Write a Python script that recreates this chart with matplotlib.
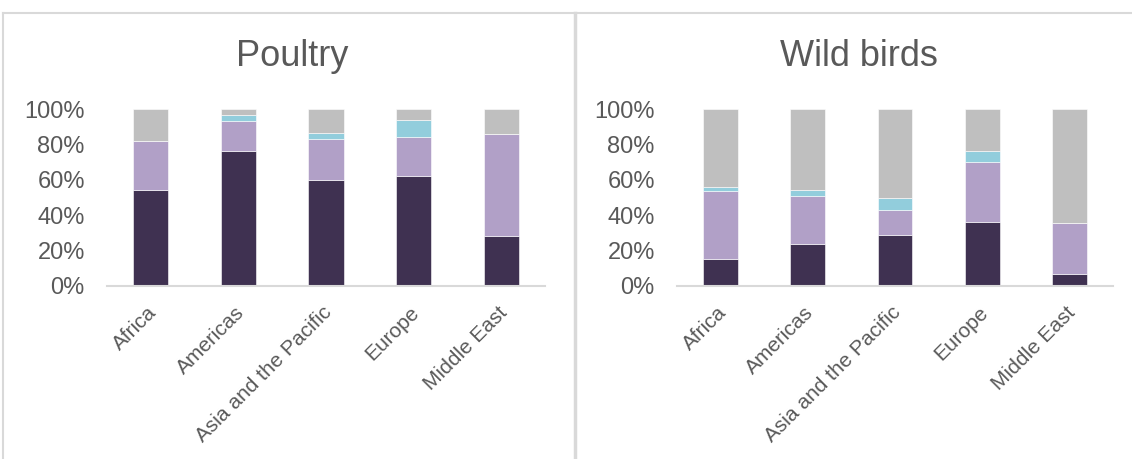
import matplotlib
matplotlib.use("Agg")
import matplotlib.pyplot as plt
import matplotlib.transforms as mtransforms
from matplotlib.lines import Line2D
from matplotlib.ticker import PercentFormatter

regions = ["Africa", "Americas", "Asia and the Pacific", "Europe", "Middle East"]

# shares in percent, stacked bottom to top
poultry_dark = [54, 76, 60, 62, 28]
poultry_purple = [28, 17, 23, 22, 58]
poultry_blue = [0, 3.5, 3.5, 10, 0]
poultry_gray = [18, 3.5, 13.5, 6, 14]

wild_dark = [15, 24, 29, 36, 7]
wild_purple = [38.5, 27, 14, 34, 28.5]
wild_blue = [2.5, 3.5, 6.5, 6, 0]
wild_gray = [44, 45.5, 50.5, 24, 64.5]

colors = ["#3F3151", "#B1A0C7", "#92CDDC", "#BFBFBF"]
text_col = "#595959"
line_col = "#D9D9D9"

plt.rcParams["font.family"] = ["Liberation Sans", "DejaVu Sans"]

W, H = 1132, 459
fig = plt.figure(figsize=(W / 100, H / 100), dpi=100)


def px_axes(x0, x1, ytop, ybot):
    return fig.add_axes([x0 / W, (H - ybot) / H, (x1 - x0) / W, (ybot - ytop) / H])


def draw(ax, title, series, title_x):
    x = range(len(regions))
    bottom = [0] * len(regions)
    for vals, c in zip(series, colors):
        ax.bar(x, vals, bottom=bottom, width=0.4, color=c, edgecolor="white", linewidth=0.4)
        bottom = [b + v for b, v in zip(bottom, vals)]
    ax.set_xlim(-0.5, len(regions) - 0.5)
    ax.set_ylim(0, 100)
    ax.set_yticks([0, 20, 40, 60, 80, 100])
    ax.yaxis.set_major_formatter(PercentFormatter(decimals=0))
    ax.set_xticks(list(x))
    ax.set_xticklabels(regions, rotation=45, ha="right", rotation_mode="anchor")
    ax.tick_params(length=0, colors=text_col)
    ax.tick_params(axis="y", labelsize=17, pad=16)
    ax.tick_params(axis="x", labelsize=15, pad=12)
    shift = mtransforms.ScaledTranslation(-4 / 100, 0, fig.dpi_scale_trans)
    for lab in ax.get_xticklabels():
        lab.set_transform(lab.get_transform() + shift)
    for s in ["top", "right", "left"]:
        ax.spines[s].set_visible(False)
    ax.spines["bottom"].set_color(line_col)
    ax.spines["bottom"].set_linewidth(1.5)
    fig.text(title_x / W, 1 - 56 / H, title, ha="center", va="center",
             fontsize=26, color=text_col)


ax1 = px_axes(107, 545, 109, 286)
draw(ax1, "Poultry", [poultry_dark, poultry_purple, poultry_blue, poultry_gray], 292)

ax2 = px_axes(677, 1113, 109, 286)
draw(ax2, "Wild birds", [wild_dark, wild_purple, wild_blue, wild_gray], 859)

# panel borders
fig.add_artist(Line2D([3 / W, 1], [1 - 13 / H] * 2, color=line_col, lw=1.5))
fig.add_artist(Line2D([3 / W] * 2, [0, 1 - 13 / H], color=line_col, lw=1.5))
fig.add_artist(Line2D([575 / W] * 2, [0, 1 - 13 / H], color=line_col, lw=2.5))

fig.savefig("out.png", dpi=100)
